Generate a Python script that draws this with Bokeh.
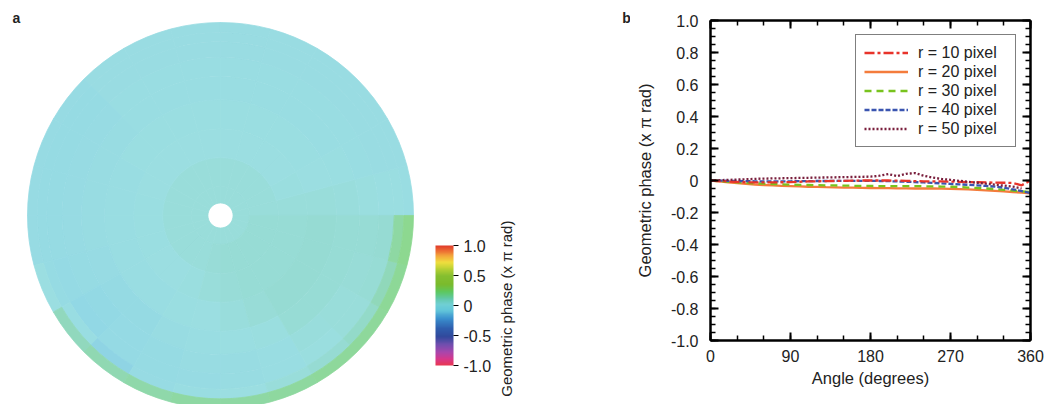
import numpy as np
from bokeh.plotting import figure
from bokeh.models import (Range1d, ColorBar, LinearColorMapper, FixedTicker, Label, Legend,
                          LegendItem, LinearAxis, CustomJSTickFormatter, ColumnDataSource)
from bokeh.layouts import row, column
from bokeh.embed import file_html
from bokeh.resources import INLINE

FONT = "Liberation Sans"
TXT = "#222222"

# ---------------- data: panel a (phase map, polar bins) ----------------
ring_edges = [0.065, 0.15, 0.30, 0.45, 0.60, 0.72, 0.82, 0.90, 0.95, 1.00]  # fraction of radius
sector_deg = 15  # 24 sectors, counter-clockwise from east
phase_ring0 = [0.045] * 24
phase_ring1 = [0.04] * 16 + [0.045, 0.05] + [0.055] * 6
phase_ring2 = [0.045, 0.03] + [0.02] * 9 + [0.015] * 3 + [0.02, 0.02] + [0.03, 0.04, 0.05] + [0.06] * 5
phase_ring3 = [0.04, 0.02] + [0.012] * 8 + [0.005] * 4 + [0.0, 0.0] + [0.01, 0.02, 0.035] + [0.05] + [0.065] * 4
phase_ring4 = [0.035, 0.01] + [0.005] * 7 + [-0.01] * 4 + [-0.02, -0.035, -0.035, -0.015, 0.0, 0.01, 0.03] + [0.06] * 4
phase_ring5 = [0.03, 0.005] + [0.0] * 7 + [-0.02] * 4 + [-0.03, -0.06, -0.045, -0.025, -0.015, -0.01, 0.0, 0.035, 0.045, 0.05, 0.055]
phase_ring6 = [0.015] + [-0.005] * 8 + [-0.025] * 4 + [-0.04, -0.065, -0.045, -0.025, -0.02, -0.015, 0.0, 0.025, 0.04, 0.06, 0.07]
phase_ring7 = [0.01] + [-0.005] * 8 + [-0.025] * 4 + [-0.03, 0.0, -0.09, -0.02, 0.0, 0.02, 0.04, 0.07, 0.10, 0.14, 0.18]
phase_ring8 = [0.005] + [-0.005] * 8 + [-0.02] * 4 + [0.02, 0.13, 0.15, 0.17, 0.18, 0.18, 0.19, 0.20, 0.20, 0.21, 0.22]
phase_rings = [phase_ring0, phase_ring1, phase_ring2, phase_ring3, phase_ring4,
               phase_ring5, phase_ring6, phase_ring7, phase_ring8]

colorbar_ticks = [-1.0, -0.5, 0.0, 0.5, 1.0]
colorbar_title = "Geometric phase  (x \u03c0  rad)"

palette_anchors = [
    (-1.00, "#e8374f"), (-0.90, "#d8378a"), (-0.78, "#a846ad"), (-0.65, "#6e4fae"),
    (-0.52, "#30499c"), (-0.38, "#2f5fae"), (-0.22, "#3a8fce"), (-0.08, "#62c6da"),
    (0.02, "#70d0d4"), (0.12, "#62c8a8"), (0.22, "#5cc862"), (0.35, "#7abb2c"),
    (0.50, "#86bf30"), (0.62, "#bcd234"), (0.72, "#f0de3e"), (0.82, "#f4ac3c"),
    (0.92, "#ec6a32"), (1.00, "#e0392b"),
]

# ---------------- data: panel b (profiles) ----------------
angles = list(range(0, 361, 10))
phase_r10 = [0.000, -0.003, -0.006, -0.009, -0.011, -0.012, -0.012, -0.012, -0.011, -0.010,
             -0.008, -0.006, -0.005, -0.004, -0.003, -0.002, -0.001, 0.000, 0.000, 0.000,
             0.000, -0.001, -0.002, -0.004, -0.005, -0.006, -0.006, -0.007, -0.008, -0.010,
             -0.011, -0.012, -0.013, -0.014, -0.015, -0.030, 0.000]
phase_r20 = [0.000, -0.006, -0.012, -0.017, -0.021, -0.025, -0.028, -0.031, -0.033, -0.035,
             -0.037, -0.039, -0.040, -0.042, -0.043, -0.044, -0.045, -0.046, -0.047, -0.048,
             -0.048, -0.049, -0.049, -0.050, -0.050, -0.050, -0.051, -0.052, -0.054, -0.056,
             -0.059, -0.062, -0.065, -0.068, -0.072, -0.076, -0.080]
phase_r30 = [0.000, -0.004, -0.008, -0.012, -0.015, -0.018, -0.020, -0.022, -0.024, -0.026,
             -0.027, -0.028, -0.029, -0.030, -0.031, -0.032, -0.033, -0.034, -0.034, -0.035,
             -0.035, -0.035, -0.035, -0.035, -0.036, -0.037, -0.038, -0.039, -0.041, -0.044,
             -0.047, -0.050, -0.054, -0.058, -0.063, -0.068, -0.072]
phase_r40 = [0.000, -0.001, -0.002, -0.003, -0.004, -0.005, -0.005, -0.005, -0.005, -0.005,
             -0.004, -0.004, -0.003, -0.003, -0.002, -0.002, -0.002, -0.002, -0.002, -0.003,
             -0.004, -0.006, -0.008, -0.010, -0.012, -0.015, -0.018, -0.021, -0.024, -0.027,
             -0.030, -0.034, -0.038, -0.045, -0.055, -0.066, -0.078]
phase_r50 = [0.000, 0.002, 0.004, 0.006, 0.008, 0.010, 0.012, 0.013, 0.014, 0.015,
             0.016, 0.017, 0.018, 0.019, 0.020, 0.021, 0.022, 0.023, 0.024, 0.030,
             0.040, 0.028, 0.042, 0.046, 0.030, 0.018, 0.010, 0.004, -0.002, -0.008,
             -0.014, -0.020, -0.026, -0.032, -0.038, -0.050]
series_labels = ["r = 10 pixel", "r = 20 pixel", "r = 30 pixel", "r = 40 pixel", "r = 50 pixel"]
x_major = [0, 90, 180, 270, 360]
x_minor = list(range(0, 361, 30))
y_major = [round(v, 1) for v in np.arange(-1.0, 1.01, 0.2)]
y_minor = [round(v, 2) for v in np.arange(-1.0, 1.001, 0.05)]


def build_palette(anchors, n=256, lighten=0.0):
    vals = np.array([a[0] for a in anchors])
    rgb = np.array([[int(h[i:i + 2], 16) for i in (1, 3, 5)] for _, h in anchors], float)
    out = []
    for t in np.linspace(-1, 1, n):
        c = [np.interp(t, vals, rgb[:, j]) for j in range(3)]
        c = [(1 - lighten) * x + lighten * 255 for x in c]
        out.append("#%02x%02x%02x" % tuple(int(round(x)) for x in c))
    return out


pal_full = build_palette(palette_anchors)
pal_map = build_palette(palette_anchors, lighten=0.3)

H = 404
WA, WB = 630, 417
# ---------------- panel a ----------------
pa = figure(width=WA, height=H, x_range=Range1d(0, WA), y_range=Range1d(-H, 0),
            output_backend="svg", toolbar_location=None, min_border=0,
            x_axis_location=None, y_axis_location=None, outline_line_color=None)
pa.xgrid.visible = False
pa.ygrid.visible = False

CX, CY, R = 220, -215, 193
wx, wy, wri, wro, wa0, wa1, wv = [], [], [], [], [], [], []
for ri, ring in enumerate(phase_rings):
    for si, v in enumerate(ring):
        wx.append(CX)
        wy.append(CY)
        wri.append(ring_edges[ri] * R)
        wro.append(ring_edges[ri + 1] * R)
        wa0.append(np.radians(si * sector_deg))
        wa1.append(np.radians((si + 1) * sector_deg))
        wv.append(v)
wsrc = ColumnDataSource(dict(x=wx, y=wy, ri=wri, ro=wro, a0=wa0, a1=wa1, v=wv))
map_mapper = LinearColorMapper(palette=pal_map, low=-1, high=1)
pa.annular_wedge(x="x", y="y", inner_radius="ri", outer_radius="ro", start_angle="a0",
                 end_angle="a1", source=wsrc,
                 fill_color={"field": "v", "transform": map_mapper},
                 line_color={"field": "v", "transform": map_mapper}, line_width=0.8)

cb_mapper = LinearColorMapper(palette=pal_full, low=-1, high=1)
fmt = CustomJSTickFormatter(code="return Math.abs(tick) < 1e-9 ? '0' : tick.toFixed(1);")
cb = ColorBar(color_mapper=cb_mapper, location=(435, H - 365), width=18, height=120, padding=0,
              ticker=FixedTicker(ticks=colorbar_ticks), formatter=fmt,
              major_tick_out=5, major_tick_in=0, major_tick_line_color="black",
              minor_tick_line_color=None, label_standoff=5,
              major_label_text_font=FONT, major_label_text_font_size="16px",
              major_label_text_color=TXT, bar_line_color=None, border_line_color=None,
              background_fill_alpha=0)
pa.add_layout(cb)

pa.add_layout(Label(x=506, y=-304, text=colorbar_title, angle=np.pi / 2, text_align="center",
                    text_baseline="middle", text_font=FONT, text_font_size="15px",
                    text_color=TXT))
pa.add_layout(Label(x=16, y=-17, text="a", text_align="center", text_baseline="middle",
                    text_font=FONT, text_font_size="14px", text_font_style="bold",
                    text_color=TXT))
pa.add_layout(Label(x=626, y=-17, text="b", text_align="center", text_baseline="middle",
                    text_font=FONT, text_font_size="14px", text_font_style="bold",
                    text_color=TXT))

# ---------------- panel b ----------------
FL, FT, FW, FH = 80, 20, 320, 320
pb = figure(width=WB, height=H, x_range=Range1d(0, 360), y_range=Range1d(-1, 1),
            output_backend="svg", toolbar_location=None,
            min_border_left=FL, min_border_right=WB - FL - FW, min_border_top=FT,
            min_border_bottom=H - FT - FH)
pb.xgrid.visible = False
pb.ygrid.visible = False
pb.outline_line_color = None

xt = FixedTicker(ticks=x_major, minor_ticks=x_minor)
yt = FixedTicker(ticks=y_major, minor_ticks=y_minor)
yfmt = CustomJSTickFormatter(code="return Math.abs(tick) < 1e-9 ? '0' : tick.toFixed(1);")
blank = CustomJSTickFormatter(code="return '';")


def style_axis(ax, show_labels=True):
    ax.axis_line_width = 2.5
    ax.axis_line_color = "black"
    ax.major_tick_in = 8
    ax.major_tick_out = 0
    ax.minor_tick_in = 5
    ax.minor_tick_out = 0
    ax.major_tick_line_width = 2
    ax.minor_tick_line_width = 1.5
    ax.major_tick_line_color = "black"
    ax.minor_tick_line_color = "black"
    ax.major_label_text_font = FONT
    ax.major_label_text_font_size = "16px" if show_labels else "1px"
    ax.major_label_text_color = TXT
    ax.axis_label_text_font = FONT
    ax.axis_label_text_font_size = "16.5px"
    ax.axis_label_text_font_style = "normal"
    ax.axis_label_text_color = TXT


pb.xaxis.ticker = xt
pb.yaxis.ticker = yt
pb.yaxis.formatter = yfmt
for ax in pb.xaxis + pb.yaxis:
    style_axis(ax)
pb.xaxis.axis_label = "Angle (degrees)"
pb.yaxis.axis_label = "Geometric phase (x \u03c0 rad)"
pb.xaxis.major_label_standoff = 9
pb.yaxis.major_label_standoff = 12
pb.xaxis.axis_label_standoff = 4
pb.yaxis.axis_label_standoff = 14

top_ax = LinearAxis(ticker=FixedTicker(ticks=x_major, minor_ticks=x_minor), formatter=blank)
right_ax = LinearAxis(ticker=FixedTicker(ticks=y_major, minor_ticks=y_minor), formatter=blank)
for ax in (top_ax, right_ax):
    style_axis(ax, show_labels=False)
    ax.major_label_standoff = 0
pb.add_layout(top_ax, "above")
pb.add_layout(right_ax, "right")

r20 = pb.line(angles, phase_r20, line_color="#f47c3c", line_width=2.3)
r30 = pb.line(angles, phase_r30, line_color="#78c31e", line_width=2.3, line_dash="7 5")
r40 = pb.line(angles, phase_r40, line_color="#3a55b0", line_width=2.3, line_dash="5 2")
r10 = pb.line(angles, phase_r10, line_color="#e8332a", line_width=2.3, line_dash="10 3 3 3")
r50 = pb.line(angles[:len(phase_r50)], phase_r50, line_color="#7a1f3d", line_width=2.3,
              line_dash="2 2")

legend = Legend(items=[LegendItem(label=lab, renderers=[rr]) for lab, rr in
                       zip(series_labels, [r10, r20, r30, r40, r50])],
                location=(145, FH - 16 - 111), border_line_color="black", border_line_width=1,
                background_fill_color="white", background_fill_alpha=1,
                label_text_font=FONT, label_text_font_size="16px", label_text_color=TXT,
                glyph_width=44, glyph_height=19, label_height=19, label_width=89,
                spacing=0, padding=8, margin=0, label_standoff=10)
pb.add_layout(legend)

layout = row(column(pa), column(pb))
open("out.html", "w").write(file_html(layout, INLINE))
